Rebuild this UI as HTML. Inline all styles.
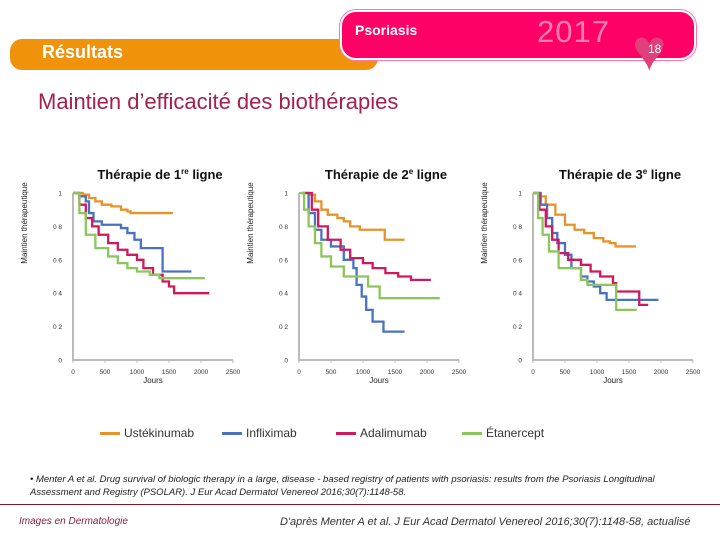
<!DOCTYPE html>
<html><head><meta charset="utf-8"><style>
body{margin:0;width:720px;height:540px;background:#fff;overflow:hidden;font-family:"Liberation Sans",sans-serif;position:relative}
.abs{position:absolute;white-space:nowrap}
</style></head><body>
<div class="abs" style="left:10px;top:39px;width:368px;height:31px;background:#f0930a;border-radius:12px 0 12px 12px"></div>
<div class="abs" style="left:340px;top:10px;width:352px;height:46px;background:#ff0066;border-radius:16px;border:2px solid #fff;box-shadow:0 0 0 1px #f7a"></div>
<div class="abs" style="left:355px;top:22px;color:#fff;font-weight:bold;font-size:14px">Psoriasis</div>
<div class="abs" style="left:537px;top:14px;color:#ff80b0;font-size:31px;letter-spacing:1px">2017</div>
<div class="abs" style="left:632px;top:22px;font-size:58px;line-height:58px;color:#e0407a">♥</div>
<div class="abs" style="left:648px;top:42px;color:#fff;font-size:12px">18</div>
<div class="abs" style="left:42px;top:42px;color:#fff;font-weight:bold;font-size:18px">Résultats</div>
<div class="abs" style="left:38px;top:89px;color:#a3214f;font-size:22px">Maintien d’efficacité des biothérapies</div>

<svg id="charts" width="720" height="420" style="position:absolute;left:0;top:0" font-family="Liberation Sans, sans-serif"></svg>

<div class="abs" style="left:0;top:426px;font-size:12px;color:#333">
<span class="abs" style="left:100px;top:0"><span style="display:inline-block;width:20px;height:3px;background:#e8922a;vertical-align:middle;margin-right:4px"></span>Ustékinumab</span>
<span class="abs" style="left:222px;top:0"><span style="display:inline-block;width:20px;height:3px;background:#4a72c0;vertical-align:middle;margin-right:4px"></span>Infliximab</span>
<span class="abs" style="left:336px;top:0"><span style="display:inline-block;width:20px;height:3px;background:#d0185e;vertical-align:middle;margin-right:4px"></span>Adalimumab</span>
<span class="abs" style="left:462px;top:0"><span style="display:inline-block;width:20px;height:3px;background:#8cc65a;vertical-align:middle;margin-right:4px"></span>Étanercept</span>
</div>
<div class="abs" style="left:30px;top:474px;font-size:9.5px;font-style:italic;color:#222;line-height:12.5px">• Menter A et al. Drug survival of biologic therapy in a large, disease - based registry of patients with psoriasis: results from the Psoriasis Longitudinal<br>Assessment and Registry (PSOLAR). J Eur Acad Dermatol Venereol 2016;30(7):1148-58.</div>
<div class="abs" style="left:0;top:504px;width:720px;height:1px;background:#7a1a2a"></div>
<div class="abs" style="left:19px;top:516px;font-size:10px;font-style:italic;color:#8a2040">Images en Dermatologie</div>
<div class="abs" style="left:280px;top:516px;font-size:11px;font-style:italic;color:#333">D'après Menter A et al. J Eur Acad Dermatol Venereol 2016;30(7):1148-58, actualisé</div>

<script>
const chartTitles=["Thérapie de 1","Thérapie de 2","Thérapie de 3"];
const chartSups=["re","e","e"];
const xTicks=[0,500,1000,1500,2000,2500];
const yTicks=[0,0.2,0.4,0.6,0.8,1];
const yTickLabels=["0","0 2","0 4","0 6","0 8","1"];
const seriesNames=["ustekinumab","infliximab","adalimumab","etanercept"];
const seriesColors=["#e8922a","#4a72c0","#d0185e","#8cc65a"];
// chart 1
const c1UstDays=[0,150,250,350,450,600,750,850,900,1560];
const c1UstVals=[1,0.99,0.97,0.95,0.93,0.92,0.90,0.89,0.88,0.88];
const c1InfDays=[0,100,200,250,320,450,700,750,850,960,1060,1400,1850];
const c1InfVals=[1,0.98,0.95,0.88,0.83,0.81,0.81,0.79,0.76,0.72,0.67,0.53,0.53];
const c1AdaDays=[0,100,200,300,400,550,700,850,1000,1100,1250,1400,1500,1580,2130];
const c1AdaVals=[1,0.93,0.85,0.80,0.75,0.70,0.66,0.63,0.60,0.55,0.51,0.47,0.44,0.40,0.40];
const c1EtaDays=[0,100,200,350,550,700,850,1000,1200,1350,2060];
const c1EtaVals=[1,0.88,0.75,0.67,0.62,0.58,0.55,0.53,0.51,0.49,0.49];
// chart 2
const c2UstDays=[50,150,250,350,450,600,700,800,950,1340,1650];
const c2UstVals=[1,0.99,0.95,0.90,0.87,0.85,0.83,0.80,0.78,0.72,0.72];
const c2InfDays=[50,150,250,350,500,700,850,900,980,1050,1150,1320,1650];
const c2InfVals=[1,0.88,0.78,0.72,0.68,0.60,0.55,0.45,0.38,0.30,0.23,0.17,0.17];
const c2AdaDays=[50,200,300,450,650,800,1000,1150,1350,1550,1750,2060];
const c2AdaVals=[1,0.90,0.80,0.72,0.66,0.61,0.58,0.55,0.52,0.50,0.48,0.48];
const c2EtaDays=[0,80,150,250,350,500,700,1080,1260,2200];
const c2EtaVals=[1,0.90,0.80,0.70,0.62,0.56,0.50,0.44,0.37,0.37];
// chart 3
const c3UstDays=[0,100,200,350,500,650,800,950,1100,1200,1290,1610];
const c3UstVals=[1,0.98,0.93,0.87,0.81,0.78,0.76,0.73,0.71,0.70,0.68,0.68];
const c3InfDays=[0,120,220,300,380,500,600,750,850,950,1050,1150,1960];
const c3InfVals=[1,0.93,0.85,0.76,0.70,0.63,0.55,0.50,0.47,0.44,0.40,0.36,0.36];
const c3AdaDays=[0,100,200,300,400,550,750,900,1050,1250,1300,1660,1800];
const c3AdaVals=[1,0.90,0.80,0.72,0.64,0.60,0.57,0.53,0.50,0.46,0.41,0.33,0.33];
const c3EtaDays=[0,80,150,250,400,750,850,1300,1620];
const c3EtaVals=[1,0.85,0.75,0.65,0.55,0.48,0.45,0.30,0.30];

const allDays=[[c1UstDays,c1InfDays,c1AdaDays,c1EtaDays],[c2UstDays,c2InfDays,c2AdaDays,c2EtaDays],[c3UstDays,c3InfDays,c3AdaDays,c3EtaDays]];
const allVals=[[c1UstVals,c1InfVals,c1AdaVals,c1EtaVals],[c2UstVals,c2InfVals,c2AdaVals,c2EtaVals],[c3UstVals,c3InfVals,c3AdaVals,c3EtaVals]];

const svg=document.getElementById('charts');
const NS='http://www.w3.org/2000/svg';
const origins=[73,299,533];
const plotW=160, yTop=193, yBot=360;
function mk(tag,attrs,parent){const e=document.createElementNS(NS,tag);for(const k in attrs)e.setAttribute(k,attrs[k]);(parent||svg).appendChild(e);return e;}

origins.forEach((x0,ci)=>{
  const g=mk('g',{});
  
  
  const xs=d=>x0+d/2500*plotW;
  const ys=v=>yBot-v*(yBot-yTop);
  const t=mk('text',{x:x0+87,y:179,'text-anchor':'middle','font-size':13,'font-weight':'bold',fill:'#111'},g);
  
  
  t.textContent=chartTitles[ci];
  const ts=mk('tspan',{'font-size':8,dy:-5},t);ts.textContent=chartSups[ci];
  const ts2=mk('tspan',{dy:5},t);ts2.textContent=' ligne';
  const yl=mk('text',{transform:`translate(${x0-46},${yTop+30}) rotate(-90)`,'text-anchor':'middle','font-size':8,fill:'#222'},g);
  
  
  yl.textContent='Maintien thérapeutique';
  const ax=mk('path',{d:`M${x0},${yTop} V${yBot} H${x0+plotW}`,stroke:'#bbb','stroke-width':2,fill:'none'},g);
  
  
  yTicks.forEach((v,i)=>{
    const l=mk('text',{x:x0-11,y:ys(v)+2.5,'text-anchor':'end','font-size':6.5,fill:'#333'},g);
    
    
    l.textContent=yTickLabels[i];
  });
  xTicks.forEach(d=>{
    mk('line',{x1:xs(d),x2:xs(d),y1:yBot,y2:yBot+3,stroke:'#bbb'},g);
    const l=mk('text',{x:xs(d),y:yBot+14,'text-anchor':'middle','font-size':6.5,fill:'#333'},g);
    
    
    l.textContent=String(d);
  });
  const xl=mk('text',{x:x0+80,y:yBot+23,'text-anchor':'middle','font-size':8,fill:'#222'},g);
  
  
  xl.textContent='Jours';
  allDays[ci].forEach((days,si)=>{
    const vals=allVals[ci][si];
    let d=`M${xs(days[0])},${ys(vals[0])}`;
    for(let i=1;i<days.length;i++){d+=` H${xs(days[i])} V${ys(vals[i])}`;}
    const p=mk('path',{d:d,stroke:seriesColors[si],'stroke-width':2.3,fill:'none'},g);
    
    
  });
});
</script>
</body></html>
